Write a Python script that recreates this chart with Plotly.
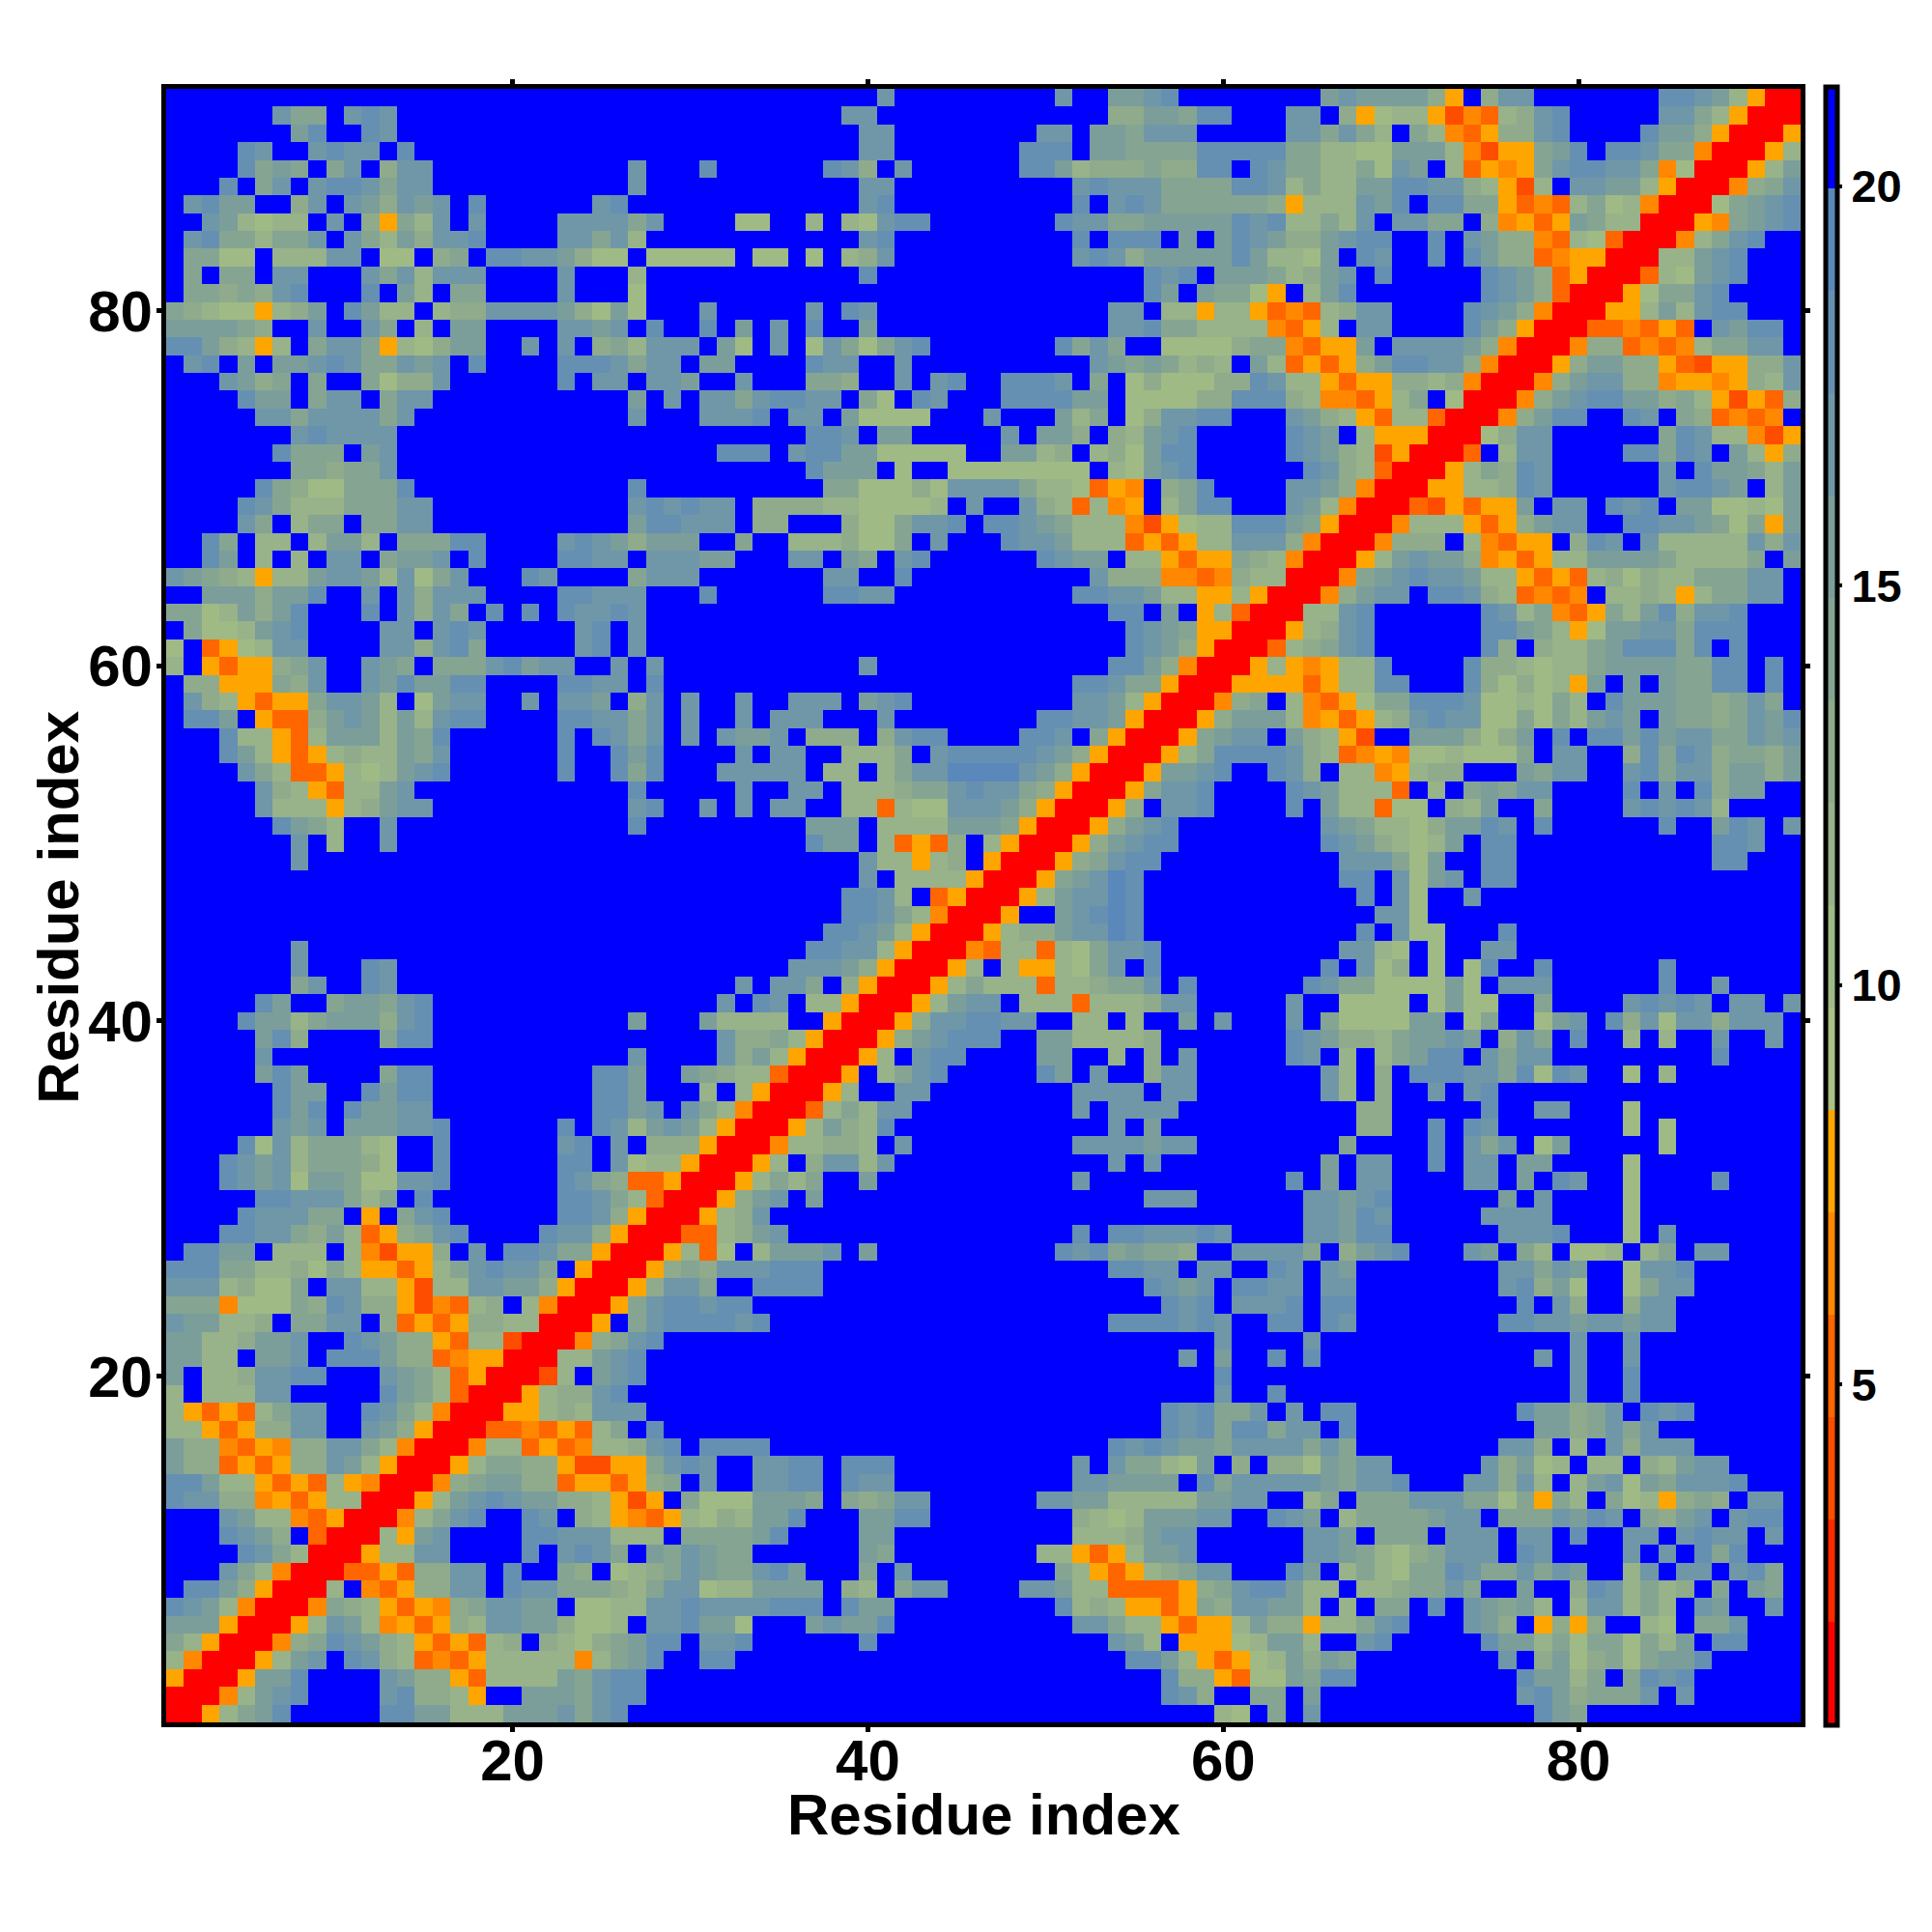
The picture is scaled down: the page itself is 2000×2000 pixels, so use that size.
import plotly.graph_objects as go

# Distance classes: code -> class mid value, colour (low to high)
LEVEL_CODES = ["r", "e", "d", "c", "b", "a", "1", "2", "3", "4", "5", "6", "7", "8", "9", "."]
LEVEL_VALUES = [1.41, 2.69, 3.97, 5.24, 6.52, 7.80, 9.08, 10.36, 11.64, 12.92, 14.20, 15.47, 16.75, 18.03, 19.31, 20.59]
LEVEL_COLORS = ["#ff0000", "#ff2a00", "#ff4d00", "#ff6600", "#ff8800", "#ffa500",
                "#a9c086", "#a0ba85", "#98b289", "#8fab8c", "#85a592", "#7b9e9b",
                "#6f97a8", "#6590b2", "#5a88bb", "#0000ff"]
TICKS = [20, 40, 60, 80]
CBAR_TICKS = [5, 10, 15, 20]
AXIS_TITLE = "Residue index"

# Symmetric map: each row is one residue y (x <= y); tokens are "first_x:codes", anything else is "."
ROWS_92_TO_61 = [
 "41:7 51:7 54:6678 66:676666 72:4a 75:477 85:88 87:763a 91:rr",
 "7:755 11:787 39:77 54:4466 58:5 59:88 64:77 67:4a 69:2 70:33 72:ad 74:bc 76:34 78:78 85:77 87:5 88:3 89:a 90:rr",
 "8:68 12:87 40:77 50:77 53:665 56:777 64:77 66:5 67:7 68:5 69:3 71:5 72:3 73:bca 76:44 78:78 84:8 85:66 87:4 88:a 89:rr",
 "5:87 9:7877 14:8 40:77 49:888 53:66 55:555 58:5 59:888 62:88 64:55 66:3322 70:66 72:6 73:3 74:bd 76:aa 78:56 80:8 82:88 84:7 85:55 87:b 88:rr",
 "5:8 6:5 7:65 10:57 13:4 14:77 27:7 31:8 38:874 42:7 49:88 51:6 52:3 53:444 56:5 57:44 59:88 62:87 64:55 66:33 68:5 69:2 70:76 73:3 74:cab 77:a 78:57 80:88 82:77 84:5 85:b 86:2 87:rr",
 "4:8 6:57 9:7 10:88 12:7 13:5 14:77 27:7 40:77 52:7 53:8 54:777 57:5 58:55 60:5 61:8 62:87 64:35 66:33 68:66 70:88 72:77 74:43 76:ad 78:3 80:77 82:66 84:3 85:a 86:rr",
 "2:78 4:66 8:4 9:7 11:76 13:4 14:76 16:7 18:8 25:78 40:78 52:8 54:7 55:87 57:55555 62:54 64:a 65:333 68:76 70:8 72:88 74:55 76:ac 78:bc 80:35 82:23 84:b 85:rr",
 "3:76 5:3233 10:7 12:4 13:a 14:53 16:7 18:7 23:7777 27:5 28:7 33:22 37:3 39:32 41:7 42:88 51:8 52:77 54:55 56:6 57:6666 61:8 62:78 64:33 66:53 68:7 70:77 72:55 75:4 76:baca 80:65 82:33 84:rr",
 "2:78 4:55 6:355 9:7 11:753 14:64778 23:77573 40:78 52:8 54:888 58:6 60:68 62:76 64:44 66:67 68:88 72:8 74:76 76:44 78:bc32c 83:rr",
 "2:55 4:22 7:333 10:77 13:22 16:45 19:8877 23:6422 28:22222 34:22 37:2 39:347 52:7874 56:66666 61:8 62:63 64:32 66:6 68:87 72:8 74:86 76:44 78:cb 80:aa 82:rr",
 "2:5 4:55 7:77 12:7573 16:777 23:7 27:3 40:8 56:878 60:66 62:65 64:34 66:67 69:8 75:876 78:4 79:ca 81:rr",
 "2:55 4:4 5:54 7:78 12:8 14:63 17:55 23:7 27:2 56:86 59:6 60:55 62:2a 65:36 67:8 75:876 78:4c 80:rr",
 "1:54322a346 11:8633 16:344 19:7777 23:6426 27:2 31:7 37:7 39:87 54:77 57:33a33 62:acbc 66:34 68:77 74:87 76:64 78:b 79:rr",
 "1:666654 9:7 12:75 15:3 17:66 23:7767 28:8 31:8 33:6 35:7 37:8 40:6 54:778 57:553 60:333 63:bca3 68:77 74:864 77:a 78:rr",
 "1:8864 5:3a3 9:577 12:5a32 16:466 21:7 23:7 25:453 28:777 32:6 33:2 35:7 37:27 39:525 42:78 51:857 54:5 57:2222 61:455 64:bcaa 68:6 70:7777 74:64 76:b 77:rr",
 "2:78 5:6 7:667 10:87 12:55 14:767 18:8 23:8887 27:577 31:66 37:877 42:7 53:76565343 62:63 64:caca 68:46 70:88 72:77 74:4b 76:rr",
 "4:7645 9:5 12:5244 16:7 23:8 25:77 28:776 33:7 37:554 42:7 44:78 48:8887 53:5 55:24 57:222 60:44 62:87 64:33 66:acaa 70:44 72:34 74:b 75:rr",
 "5:866 9:577 13:577 27:6 29:7 31:77 33:578877 40:52 43:87 48:8888 52:66 55:2222 59:44 61:888 64:43 66:bbca 70:35 73:2 74:rr",
 "6:775 9:7777 13:57 27:7 31:77 33:78 36:77 39:62222 47:7 51:635 55:24 57:77 59:88 64:7643 68:ac 70:33 72:c 73:rr",
 "8:78 10:7777 37:887 41:66 48:7 50:664 54:4367 58:8 64:876 68:3 69:aaa 72:rr",
 "7:8555 12:67 32:888 36:788 39:6622222 48:6634 53:3426 57:88 64:8764 68:3da 71:rr",
 "8:55455 13:7 37:8666 42:2 45:22222222 54:3267 58:8 65:8743 69:c 70:rr",
 "6:85422 11:555 14:8 27:8 38:55222 43:42 45:7777 49:5332 53:cab 57:458 64:7764 68:b 69:rr",
 "5:87533 10:3 11:555 14:77 27:7878 31:77 34:4444 38:33 40:2222 44:3 46:7 49:743c 53:3ba 57:358 60:8 64:763b 68:rr",
 "5:75 8:355 12:5577 27:688 30:777 34:44 39:422 42:5778 47:88765 52:333 55:bda2 59:33 61:888 64:65 66:a 67:rr",
 "3:85 6:33 9:3663 14:555 17:88 23:78764 28:666 33:5 36:3334 40:225 44:7 48:877 51:6 52:333 55:caca 59:33 61:777 64:4b 66:rr",
 "3:86 6:3 8:3 10:77 13:5667 18:8 23:8877 28:777 31:66 36:77 39:65 42:78 50:8766 55:33 57:acaa 61:543b 65:rr",
 "1:76543a336 10:776 13:3725 17:7 21:87 27:5 28:777 38:77 42:8 53:7444 57:bbcb 61:433 64:rr",
 "3:6664 7:668 12:7 14:74777 23:88777 31:8 38:8877 52:887 55:7633 59:aa3a 63:rr",
 "1:55236468 12:8 14:7475 19:8 21:8 23:87787 54:88 57:6 59:a3c 62:rr",
 "2:5223678 13:77 16:787 24:78 27:7 55:8765 59:aa 61:rr",
 "1:2 3:ca23 7:77 13:77 15:4785 24:78 27:7 55:8764 59:a 60:rr",
]
ROWS_60_TO_31 = [
 "1:3 3:acaa 7:457 12:765 16:555 19:78677 26:7 28:7 40:7 54:886 57:4b 59:rr",
 "2:44 4:aaa 7:547 12:76866 17:88 23:8877 28:8 52:887 55:55a 58:rr",
 "2:743acaa5 10:7763 15:2677 21:7 23:776 27:47 30:7 33:7 36:777 40:678 52:7763a 57:rr",
 "2:886 6:acc4 10:676 13:3637 17:88 23:88775 28:7 30:7 33:7 35:777 41:7 50:887 53:7 54:6a 56:rr",
 "4:833ac3 10:666 13:3658 23:8 25:875 28:7 30:7 32:7667 37:444 41:478 44:8 49:887 53:5a 55:rr",
 "4:863aca34 12:33657 23:8 26:868 33:7 35:77 39:333 42:5 44:7 45:8888 49:8764 53:a 54:rr",
 "5:753cca3 12:23678 23:8 26:858 32:77777 38:33 41:3577 45:9999 49:764a 53:rr",
 "6:743ac33 13:67 27:8 33:7 36:77 39:3334 43:5578 47:7754 51:a 52:rr",
 "6:7333a34 13:677 27:78 31:7 33:7 35:77 39:33c322 45:77764a 51:rr",
 "7:8653 13:7 27:8 37:666 41:3333 45:6665 49:a 50:rr",
 "8:7 10:3 13:7 37:866 41:3cac4 47:3a 49:rr",
 "8:7 40:733a34 47:a 48:rr",
 "40:7 42:3333a 47:rr",
 "39:8873 44:ca 46:rr",
 "39:88753b 45:rr",
 "38:88763a 44:rr",
 "8:7 37:88773a 43:rr",
 "8:7 12:87 36:77764a 42:rr",
 "8:57 12:87 33:7 35:775 39:4a 41:rr",
 "6:86 10:566578 32:7 34:87 37:33a 40:rr",
 "5:86635 10:66647 15:8 27:6 31:63333 38:a 39:rr",
 "6:684 13:588 32:74453a 38:rr",
 "6:7 27:7 32:7463a 37:rr",
 "6:686 13:588 25:886 30:65433c 36:rr",
 "7:866 12:8688 25:886 31:3 33:3a 35:rr",
 "7:868 11:86677 25:8867 30:753b 34:rr",
 "7:767 11:666778 23:8 25:8736763a 33:rr",
 "5:827355532 16:8 23:78 26:7 28:444 31:arr",
 "4:8767355542 16:8 23:88 26:7233a 31:rr",
 "4:87672665 12:22778 23:8754cca 30:rr",
]
ROWS_30_TO_1 = [
 "6:88777 11:535 15:8 23:88753c 29:rr",
 "5:8777 9:55 12:a 14:578 23:8874a 28:rr",
 "4:8877546 11:3ca4578 22:8774a 27:rr",
 "2:8866 7:333 11:3bdaa4 18:7 20:88755a 26:rr",
 "1:88855334253aaca3 17:57877 22:5 24:a 25:rr",
 "1:77734225 10:7733ad33 18:77664a 24:rr",
 "1:555b22254 10:8744adbc34 21:3b 23:rr",
 "1:766334 8:5577 13:4caca 18:4433 22:rr",
 "1:66334667 11:87644ac33d 21:rr",
 "1:6633 6:667 10:888644cbaa 20:rr",
 "1:6 3:3347788 13:7653ca 19:rr",
 "1:3 3:33377 13:8653c 18:rr",
 "1:3acac3577 12:8753b 17:rr",
 "1:33aca4477 12:764a 16:rr",
 "1:644bcab4477 12:53b 15:rr",
 "1:644caca44763a 14:rr",
 "1:88633acac3ab 13:rr",
 "1:87744baca33 12:rr",
 "4:7633bca 11:rr",
 "4:8764 9:c 10:rr",
 "5:8753 9:rr",
 "4:753b 8:rr",
 "2:8864a 7:rr",
 "1:8763b 6:rr",
 "1:666a 5:rr",
 "1:53a 4:rr",
 "1:3b 3:rr",
 "1:a 2:rr",
 "1:rr",
 "1:r",
]

N = 92
lookup = dict(zip(LEVEL_CODES, LEVEL_VALUES))
z = [[lookup["."]] * N for _ in range(N)]
for row_index, tokens in enumerate(ROWS_92_TO_61 + ROWS_60_TO_31 + ROWS_30_TO_1):
    y = N - row_index
    for token in tokens.split():
        start, codes = token.split(":")
        for offset, code in enumerate(codes):
            x = int(start) + offset
            z[y - 1][x - 1] = lookup[code]
            z[x - 1][y - 1] = lookup[code]

colorscale = []
for i, colour in enumerate(LEVEL_COLORS):
    colorscale.append([i / len(LEVEL_COLORS), colour])
    colorscale.append([(i + 1) / len(LEVEL_COLORS), colour])

FONT = "Liberation Sans"
title_font = dict(family=FONT, size=60, color="black", weight="bold")
fig = go.Figure(go.Heatmap(
    x=list(range(1, N + 1)), y=list(range(1, N + 1)), z=z,
    zmin=0.74, zmax=21.25, colorscale=colorscale, hoverongaps=False,
    colorbar=dict(
        x=1.0151, xanchor="left", xpad=0, y=0.5, yanchor="middle", ypad=0,
        len=1.0027, lenmode="fraction", thickness=12, thicknessmode="pixels",
        outlinecolor="black", outlinewidth=5, borderwidth=0,
        tickmode="array", tickvals=CBAR_TICKS, ticktext=[str(t) for t in CBAR_TICKS],
        ticks="outside", ticklen=3, tickwidth=4, tickcolor="black",
        tickfont=dict(family=FONT, size=47, color="black", weight="bold"),
    ),
))

axis = dict(
    range=[0.5, 92.5], tickmode="array", tickvals=TICKS, ticktext=[str(t) for t in TICKS],
    ticks="outside", ticklen=5, tickwidth=5, tickcolor="black",
    showline=True, linewidth=5, linecolor="black", mirror="ticks",
    showgrid=False, zeroline=False,
    tickfont=dict(family=FONT, size=60, color="black", weight="bold"),
)
fig.update_layout(
    width=2000, height=2000, autosize=False,
    paper_bgcolor="white", plot_bgcolor="white",
    margin=dict(l=163.5, r=144, t=83.5, b=225, pad=0),
    xaxis=dict(axis, ticklabelstandoff=-22),
    yaxis=dict(axis, ticklabelstandoff=-8),
    annotations=[
        dict(text=AXIS_TITLE, xref="paper", yref="paper", x=0.5, y=-0.0562,
             xanchor="center", yanchor="middle", showarrow=False, font=title_font),
        dict(text=AXIS_TITLE, xref="paper", yref="paper", x=-0.0659, y=0.499, textangle=-90,
             xanchor="center", yanchor="middle", showarrow=False, font=title_font),
    ],
)
fig.write_html("out.html")
